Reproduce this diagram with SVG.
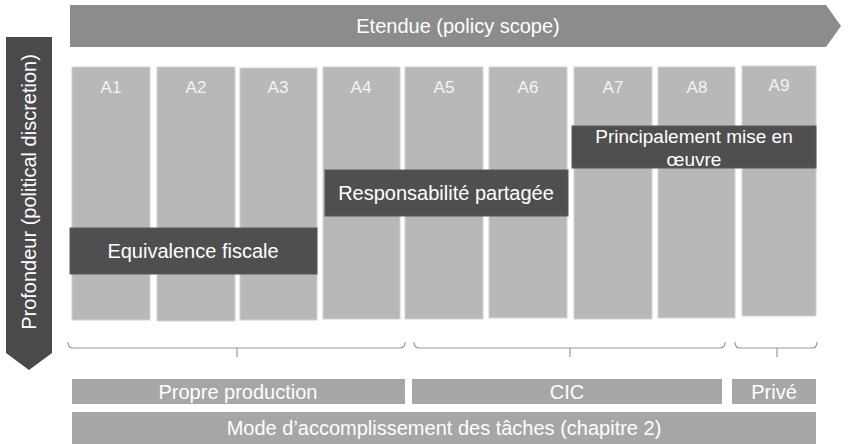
<svg xmlns="http://www.w3.org/2000/svg" width="853" height="444" viewBox="0 0 853 444">
<style>
text{font-family:"Liberation Sans",Arial,sans-serif;fill:#ffffff;text-anchor:middle}
.col{fill:#b8b8b8;stroke:#d2d2d2;stroke-width:1}
.dark{fill:#4f4f4f;stroke:#5a5a5a;stroke-width:1}
.bar{fill:#a6a6a6}
.lbl{font-size:17px;fill:#f4f4f4}
.big{font-size:20px}
.brace{fill:none;stroke:#9a9a9a;stroke-width:1.2}
</style>
<rect width="853" height="444" fill="#ffffff"/>
<g id="etendue">
<polygon points="70,5 826,5 841,26 826,47 70,47" fill="#8c8c8c"/>
<text class="big" x="458" y="33">Etendue (policy scope)</text>
</g>
<g id="profondeur">
<polygon points="6,37 52,37 52,353 29,370 6,353" fill="#4a4a4a"/>
<text class="big" transform="translate(36,192) rotate(-90)">Profondeur (political discretion)</text>
</g>
<g id="A1"><rect class="col" x="72" y="67" width="78" height="253"/><text class="lbl" x="111" y="93">A1</text></g>
<g id="A2"><rect class="col" x="157" y="67" width="78" height="254"/><text class="lbl" x="196" y="93">A2</text></g>
<g id="A3"><rect class="col" x="240" y="68" width="77" height="252"/><text class="lbl" x="278" y="93">A3</text></g>
<g id="A4"><rect class="col" x="323" y="67" width="77" height="252"/><text class="lbl" x="361" y="93">A4</text></g>
<g id="A5"><rect class="col" x="405" y="67" width="78" height="252"/><text class="lbl" x="444" y="93">A5</text></g>
<g id="A6"><rect class="col" x="489" y="67" width="78" height="251"/><text class="lbl" x="528" y="93">A6</text></g>
<g id="A7"><rect class="col" x="574" y="67" width="78" height="252"/><text class="lbl" x="613" y="93">A7</text></g>
<g id="A8"><rect class="col" x="658" y="67" width="77" height="251"/><text class="lbl" x="697" y="93">A8</text></g>
<g id="A9"><rect class="col" x="742" y="66" width="74" height="250"/><text class="lbl" x="779" y="91">A9</text></g>
<g id="equivalence"><rect class="dark" x="70" y="228" width="247" height="46"/><text class="big" x="193" y="258">Equivalence fiscale</text></g>
<g id="responsabilite"><rect class="dark" x="325" y="170" width="243" height="46"/><text class="big" x="446" y="200">Responsabilité partagée</text></g>
<g id="principalement"><rect class="dark" x="572" y="126" width="244" height="42"/><text class="big" x="694" y="143" style="font-size:19px">Principalement mise en</text><text class="big" x="694" y="166" style="font-size:19px">œuvre</text></g>
<g id="connectors">
<path class="brace" d="M68,342 Q68,348 73,348 L400,348 Q405,348 405,342 M237,348 L237,357"/>
<path class="brace" d="M414,342 Q414,348 419,348 L720,348 Q725,348 725,342 M570,348 L570,357"/>
<path class="brace" d="M735,342 Q735,348 740,348 L812,348 Q817,348 817,342 M777,348 L777,357"/>
</g>
<g id="propre"><rect class="bar" x="72" y="379" width="333" height="25"/><text class="big" x="238" y="399">Propre production</text></g>
<g id="cic"><rect class="bar" x="412" y="379" width="310" height="25"/><text class="big" x="567" y="399">CIC</text></g>
<g id="prive"><rect class="bar" x="732" y="379" width="84" height="25"/><text class="big" x="774" y="399">Privé</text></g>
<g id="mode"><rect class="bar" x="72" y="412" width="744" height="32"/><text class="big" x="444" y="435">Mode d’accomplissement des tâches (chapitre 2)</text></g>
</svg>
